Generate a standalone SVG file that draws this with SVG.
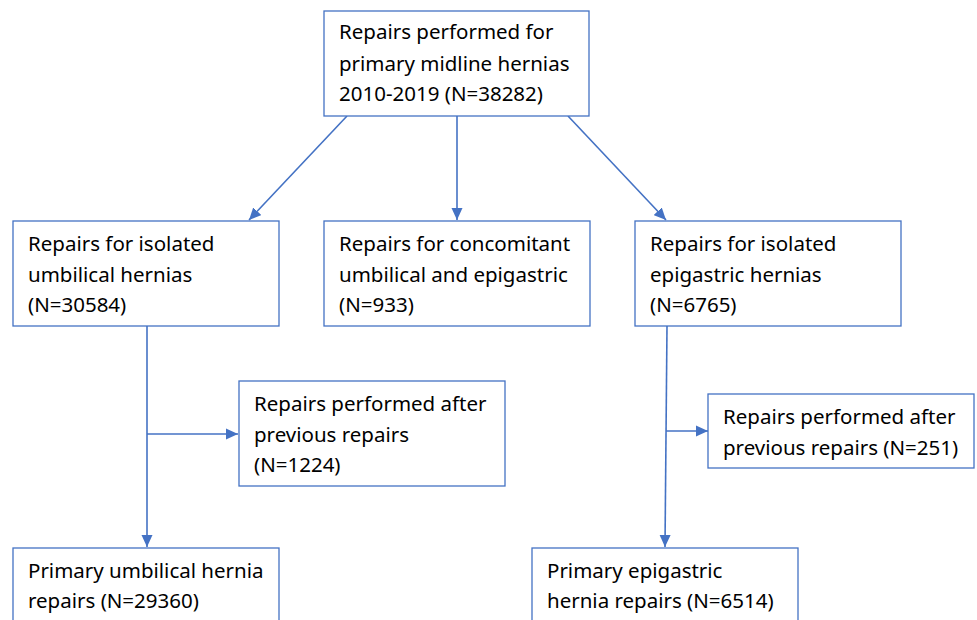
<svg xmlns="http://www.w3.org/2000/svg" width="977" height="620" viewBox="0 0 977 620">
<style>
.box{fill:#fff;stroke:#4472C4;stroke-width:1.3}
.t{font-family:"Noto Sans","Liberation Sans",sans-serif;font-size:20.5px;fill:#000}
.c{stroke:#4472C4;stroke-width:1.6;fill:none}
</style>
<defs>
<marker id="ah" markerUnits="userSpaceOnUse" markerWidth="12" markerHeight="12" viewBox="0 0 12 12" refX="12" refY="6" orient="auto">
<path d="M0,0.5 L12,6 L0,11.5 Z" fill="#4472C4"/>
</marker>
</defs>
<rect width="977" height="620" fill="#fff"/>
<g id="connectors">
<line class="c" x1="347" y1="116" x2="249" y2="220" marker-end="url(#ah)"/>
<line class="c" x1="457" y1="116" x2="457" y2="220" marker-end="url(#ah)"/>
<line class="c" x1="568" y1="116" x2="666" y2="220" marker-end="url(#ah)"/>
<line class="c" x1="147" y1="326" x2="147" y2="547" marker-end="url(#ah)"/>
<line class="c" x1="147" y1="434" x2="238" y2="434" marker-end="url(#ah)"/>
<line class="c" x1="667" y1="326" x2="665" y2="547" marker-end="url(#ah)"/>
<line class="c" x1="666" y1="431" x2="708" y2="431" marker-end="url(#ah)"/>
</g>
<g id="top">
<rect class="box" x="324" y="11" width="265" height="105"/>
<text class="t" x="339" y="39">Repairs performed for</text>
<text class="t" x="339" y="71">primary midline hernias</text>
<text class="t" x="339" y="101">2010-2019 (N=38282)</text>
</g>
<g id="umbilical">
<rect class="box" x="13" y="221" width="266" height="105"/>
<text class="t" x="28" y="251">Repairs for isolated</text>
<text class="t" x="28" y="282">umbilical hernias</text>
<text class="t" x="28" y="312">(N=30584)</text>
</g>
<g id="concomitant">
<rect class="box" x="324" y="221" width="266" height="105"/>
<text class="t" x="339" y="251">Repairs for concomitant</text>
<text class="t" x="339" y="282">umbilical and epigastric</text>
<text class="t" x="339" y="312">(N=933)</text>
</g>
<g id="epigastric">
<rect class="box" x="635" y="221" width="266" height="105"/>
<text class="t" x="650" y="251">Repairs for isolated</text>
<text class="t" x="650" y="282">epigastric hernias</text>
<text class="t" x="650" y="312">(N=6765)</text>
</g>
<g id="prev-umbilical">
<rect class="box" x="239" y="381" width="266" height="105"/>
<text class="t" x="254" y="411">Repairs performed after</text>
<text class="t" x="254" y="442">previous repairs</text>
<text class="t" x="254" y="472">(N=1224)</text>
</g>
<g id="prev-epigastric">
<rect class="box" x="708" y="394" width="266" height="74"/>
<text class="t" x="723" y="424">Repairs performed after</text>
<text class="t" x="723" y="455">previous repairs (N=251)</text>
</g>
<g id="primary-umbilical">
<rect class="box" x="13" y="548" width="266" height="90"/>
<text class="t" x="28" y="578">Primary umbilical hernia</text>
<text class="t" x="28" y="608">repairs (N=29360)</text>
</g>
<g id="primary-epigastric">
<rect class="box" x="532" y="548" width="266" height="90"/>
<text class="t" x="547" y="578">Primary epigastric</text>
<text class="t" x="547" y="608">hernia repairs (N=6514)</text>
</g>
</svg>
